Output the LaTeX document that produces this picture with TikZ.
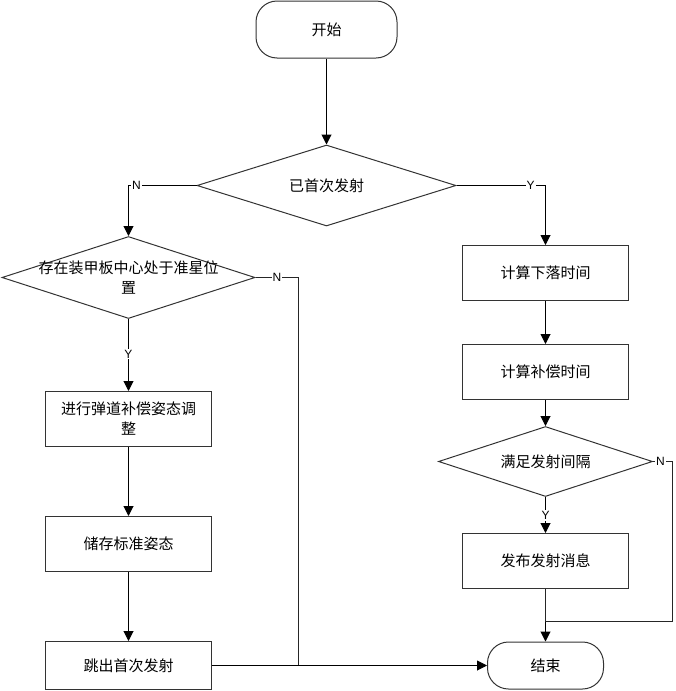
\documentclass[tikz,border=0pt]{standalone}
\usepackage{fontspec}
\newfontfamily\cjk{Noto Sans CJK SC}
\newfontfamily\lat{Liberation Sans}
\usetikzlibrary{shapes.geometric,arrows.meta}
\begin{document}
\begin{tikzpicture}[x=1pt,y=-1pt,
  base/.style={draw=black!80, line width=1pt, inner sep=0pt, font=\cjk\fontsize{15}{20}\selectfont},
  term/.style={base, rectangle, rounded corners=21pt},
  proc/.style={base, rectangle, minimum width=166pt, minimum height=55pt, align=center},
  dia/.style={base, diamond},
  txt/.style={inner sep=0pt, align=center, font=\cjk\fontsize{15}{20}\selectfont},
  lbl/.style={fill=white, inner sep=1pt, font=\lat\fontsize{12}{14}\selectfont},
  arr/.style={-{Triangle[length=10pt,width=10pt]}, draw=black, line width=1pt},
  ln/.style={draw=black!85, line width=1pt}
]
\useasboundingbox (0,0) rectangle (675,691);
% terminals
\node[term, minimum width=141pt, minimum height=57pt] (start) at (326.5,29.5) {开始};
\node[term, minimum width=116pt, minimum height=47pt] (end) at (545.5,665.5) {结束};
% diamonds
\node[dia, minimum width=259pt, minimum height=81pt] (d1) at (326.5,185.5) {};
\node[txt] (t1) at (d1) {已首次发射};
\node[dia, minimum width=253pt, minimum height=82pt] (d2) at (128.5,277.5) {};
\node[txt] (t2) at (d2) {存在装甲板中心处于准星位\\置};
\node[dia, minimum width=214pt, minimum height=70pt] (d3) at (545.5,461.5) {};
\node[txt] (t3) at (d3) {满足发射间隔};
% boxes
\node[proc] (b1) at (128.5,419) {进行弹道补偿姿态调\\整};
\node[proc] (b2) at (128.5,544) {储存标准姿态};
\node[proc, minimum height=48pt] (b3) at (128.5,665.5) {跳出首次发射};
\node[proc] (r1) at (545.5,273) {计算下落时间};
\node[proc] (r2) at (545.5,372) {计算补偿时间};
\node[proc] (r3) at (545.5,561) {发布发射消息};
% helper coordinates
\coordinate (j) at (298.5,665.5);
\coordinate (m) at (545.5,621.5);
\coordinate (k) at (672.5,461.5);
% connectors
\draw[arr] (start.south) -- (d1.north);
\draw[arr] (d1.west) -| (d2.north);
\draw[arr] (d1.east) -| (r1.north);
\draw[arr] (d2.south) -- (b1.north);
\draw[ln] (d2.east) -| (j);
\draw[arr] (b1.south) -- (b2.north);
\draw[arr] (b2.south) -- (b3.north);
\draw[arr] (b3.east) -- (end.west);
\draw[arr] (r1.south) -- (r2.north);
\draw[arr] (r2.south) -- (d3.north);
\draw[arr] (d3.south) -- (r3.north);
\draw[ln] (r3.south) -- (m);
\draw[ln] (d3.east) -- (k) |- (m);
\draw[arr] (m) -- (end.north);
% labels
\node[lbl] (ln1) at (136.5,185.5) {N};
\node[lbl] (ly1) at (530.5,185.5) {Y};
\node[lbl] (ln2) at (277,277.5) {N};
\node[lbl] (ly2) at (128.5,354) {Y};
\node[lbl] (ln3) at (660.5,461.5) {N};
\node[lbl] (ly3) at (545.5,515.5) {Y};
\end{tikzpicture}
\end{document}
